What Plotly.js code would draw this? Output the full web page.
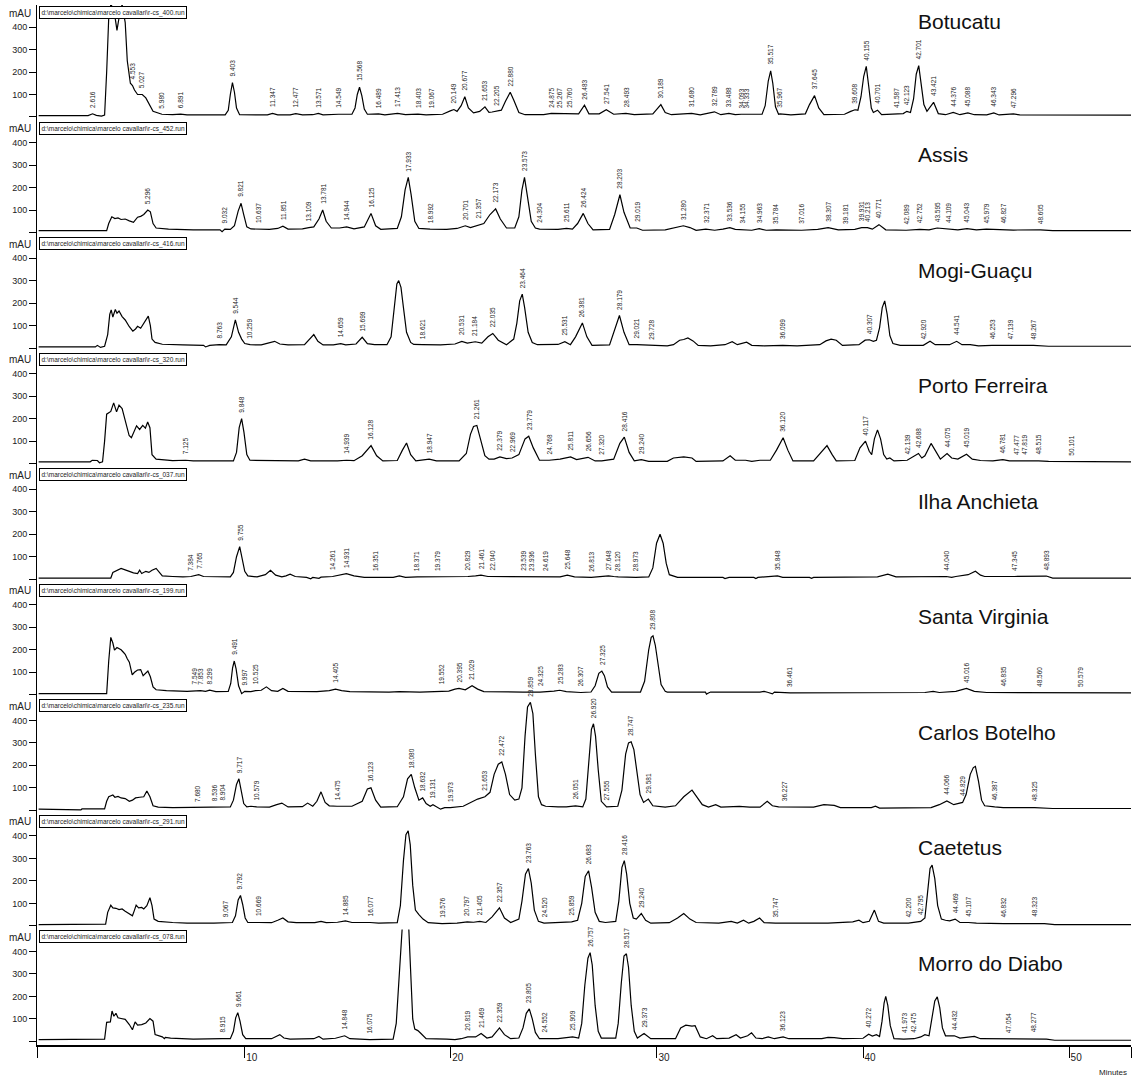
<!DOCTYPE html>
<html><head><meta charset="utf-8">
<script src="https://cdn.plot.ly/plotly-3.0.1.min.js"></script>
<style>html,body{margin:0;padding:0;background:#fff}</style>
</head><body><div id="chart" style="width:1136px;height:1078px"></div>
<script>
const sites = ["Botucatu","Assis","Mogi-Guaçu","Porto Ferreira","Ilha Anchieta","Santa Virginia","Carlos Botelho","Caetetus","Morro do Diabo"];
const runIds = ["400","452","416","320","037","199","235","291","078"];
const xTicks = [10,20,30,40,50];
const yTicks = [100,200,300,400];

const botucatuTrace = [[0,6],[2.4,6],[2.616,14],[2.8,7],[3.05,4],[3.2,8],[3.3,200],[3.4,440],[3.5,500],[3.65,480],[3.8,385],[3.95,470],[4.05,500],[4.2,420],[4.3,250],[4.45,150],[4.553,140],[4.65,120],[4.8,100],[5.027,100],[5.2,85],[5.35,60],[5.55,25],[5.98,12],[6.5,10],[6.891,13],[7.2,9],[9.05,9],[9.2,30],[9.3,100],[9.403,153],[9.5,110],[9.6,40],[9.75,10],[11.1,9],[11.347,16],[11.6,9],[12.2,9],[12.477,15],[12.8,9],[13.3,10],[13.571,16],[13.8,9],[14.549,12],[15.2,12],[15.35,40],[15.46,100],[15.568,132],[15.68,95],[15.8,35],[15.95,12],[16.489,14],[16.8,9],[17.413,16],[17.8,10],[18.403,13],[18.8,9],[19.067,10],[19.6,12],[20.0,28],[20.149,33],[20.3,25],[20.5,50],[20.677,90],[20.85,40],[21.1,18],[21.4,25],[21.653,45],[21.85,20],[22.0,22],[22.205,25],[22.45,30],[22.65,70],[22.88,110],[23.05,75],[23.3,20],[23.6,10],[24.5,10],[24.875,16],[25.267,15],[25.76,12],[26.2,14],[26.483,52],[26.7,14],[27.2,14],[27.541,32],[27.9,12],[28.493,16],[28.9,10],[29.8,14],[30.0,35],[30.189,55],[30.4,20],[30.7,10],[31.68,16],[32.1,9],[32.789,23],[33.1,10],[33.488,16],[33.8,10],[34.093,12],[34.333,12],[35.1,12],[35.25,50],[35.4,160],[35.517,205],[35.62,150],[35.75,45],[35.9,12],[35.967,14],[36.5,9],[37.2,14],[37.4,55],[37.645,95],[37.85,40],[38.1,10],[39.1,12],[39.4,25],[39.608,32],[39.75,30],[39.9,90],[40.03,180],[40.155,225],[40.27,140],[40.4,40],[40.5,20],[40.701,30],[40.9,10],[41.587,12],[41.95,15],[42.123,25],[42.3,20],[42.45,80],[42.58,190],[42.701,228],[42.82,150],[42.95,55],[43.1,25],[43.421,65],[43.65,15],[44.0,10],[44.376,20],[44.7,10],[45.088,18],[45.4,10],[46.0,9],[46.343,18],[46.6,9],[47.296,14],[47.6,9],[53,8]];
const botucatuPeaks = [["2.616",14],["4.553",140],["5.027",100],["5.980",12],["6.891",13],["9.403",153],["11.347",16],["12.477",15],["13.571",16],["14.549",12],["15.568",132],["16.489",14],["17.413",16],["18.403",13],["19.067",10],["20.149",33],["20.677",90],["21.653",45],["22.205",25],["22.880",110],["24.875",16],["25.267",15],["25.760",12],["26.483",52],["27.541",32],["28.493",16],["30.189",55],["31.680",16],["32.789",23],["33.488",16],["34.093",12],["34.333",12],["35.517",205],["35.967",14],["37.645",95],["39.608",32],["40.155",225],["40.701",30],["41.587",12],["42.123",25],["42.701",228],["43.421",65],["44.376",20],["45.088",18],["46.343",18],["47.296",14]];

const assisTrace = [[0,8],[3.3,8],[3.4,40],[3.55,70],[3.7,62],[3.85,65],[4.0,58],[4.2,60],[4.4,52],[4.6,45],[4.8,68],[4.95,72],[5.1,80],[5.296,100],[5.42,92],[5.55,40],[5.7,20],[6.3,15],[7.5,12],[8.8,12],[8.9,4],[9.0,14],[9.032,15],[9.3,14],[9.5,30],[9.68,95],[9.821,130],[9.95,80],[10.1,25],[10.3,16],[10.637,15],[11.2,14],[11.6,18],[11.851,28],[12.1,15],[12.8,16],[13.109,22],[13.35,25],[13.6,60],[13.781,100],[13.95,50],[14.2,20],[14.6,20],[14.944,25],[15.3,16],[15.8,25],[16.125,85],[16.35,30],[16.6,14],[17.4,18],[17.6,70],[17.78,190],[17.933,245],[18.07,170],[18.25,50],[18.45,18],[18.992,15],[19.8,14],[20.3,18],[20.701,30],[20.95,22],[21.357,35],[21.6,40],[21.9,80],[22.173,105],[22.4,60],[22.7,20],[23.1,20],[23.3,70],[23.45,190],[23.573,245],[23.7,170],[23.9,50],[24.1,20],[24.304,15],[25.2,14],[25.611,18],[25.9,15],[26.15,40],[26.424,85],[26.65,40],[26.9,12],[27.7,14],[27.95,80],[28.203,168],[28.4,90],[28.7,20],[29.019,20],[29.3,10],[30.4,12],[30.8,20],[31.28,30],[31.6,22],[31.9,10],[32.371,15],[32.8,10],[33.2,15],[33.536,22],[33.8,14],[34.155,12],[34.6,10],[34.963,17],[35.3,10],[35.784,12],[36.5,10],[37.016,10],[37.8,14],[38.307,22],[38.8,12],[39.181,12],[39.6,14],[39.931,22],[40.213,22],[40.45,15],[40.771,35],[41.1,12],[42.089,10],[42.752,14],[43.2,12],[43.595,20],[44.109,15],[44.6,12],[45.043,17],[45.5,12],[45.979,15],[46.827,12],[47.3,11],[48.605,12],[49.2,8],[53,8]];
const assisPeaks = [["5.296",100],["9.032",15],["9.821",130],["10.637",15],["11.851",28],["13.109",22],["13.781",100],["14.944",25],["16.125",85],["17.933",245],["18.992",15],["20.701",30],["21.357",35],["22.173",105],["23.573",245],["24.304",15],["25.611",18],["26.424",85],["28.203",168],["29.019",20],["31.280",30],["32.371",15],["33.536",22],["34.155",12],["34.963",17],["35.784",12],["37.016",10],["38.307",22],["39.181",12],["39.931",22],["40.213",22],["40.771",35],["42.089",10],["42.752",14],["43.595",20],["44.109",15],["45.043",17],["45.979",15],["46.827",12],["48.605",12]];

const mogiTrace = [[0,5],[2.75,5],[2.85,12],[3.0,3],[3.2,8],[3.35,60],[3.45,150],[3.52,170],[3.6,138],[3.72,172],[3.8,155],[3.9,165],[4.05,140],[4.2,125],[4.4,95],[4.57,75],[4.7,85],[4.8,97],[4.95,88],[5.1,110],[5.2,130],[5.32,142],[5.42,100],[5.5,40],[5.65,25],[6.0,17],[7.0,14],[8.0,12],[8.1,5],[8.3,12],[8.763,15],[9.1,14],[9.35,50],[9.544,125],[9.7,70],[9.85,40],[10.0,20],[10.259,15],[10.8,14],[11.2,22],[11.45,30],[11.7,18],[12.1,14],[12.9,15],[13.15,40],[13.35,60],[13.55,30],[13.8,14],[14.3,14],[14.659,20],[14.9,14],[15.4,18],[15.699,48],[15.95,20],[16.3,15],[16.9,15],[17.1,50],[17.25,180],[17.38,285],[17.47,300],[17.58,270],[17.7,180],[17.85,70],[18.05,25],[18.2,16],[18.621,15],[19.5,14],[20.2,18],[20.531,30],[20.8,22],[21.184,28],[21.5,22],[21.8,50],[22.035,65],[22.3,35],[22.7,15],[23.05,40],[23.2,110],[23.34,210],[23.464,240],[23.58,180],[23.75,70],[23.95,25],[24.2,15],[25.2,16],[25.531,28],[25.8,15],[26.05,50],[26.381,112],[26.6,50],[26.85,12],[27.7,14],[27.95,80],[28.179,145],[28.4,70],[28.65,15],[29.021,15],[29.728,12],[30.5,10],[30.8,15],[31.1,35],[31.3,38],[31.5,45],[31.75,32],[32.0,12],[32.6,10],[33.0,12],[33.3,15],[33.65,28],[33.9,15],[34.35,26],[34.6,12],[35.2,10],[36.099,12],[36.8,10],[37.9,15],[38.2,32],[38.45,40],[38.7,35],[39.0,12],[39.8,15],[40.1,35],[40.307,37],[40.5,30],[40.65,35],[40.8,90],[40.93,180],[41.05,210],[41.17,150],[41.3,55],[41.45,20],[41.8,12],[42.92,12],[43.25,30],[43.5,15],[44.2,15],[44.541,30],[44.8,15],[45.2,15],[45.6,10],[46.253,12],[47.139,12],[48.267,12],[49.0,8],[53,8]];
const mogiPeaks = [["8.763",15],["9.544",125],["10.259",15],["14.659",20],["15.699",48],["18.621",15],["20.531",30],["21.184",28],["22.035",65],["23.464",240],["25.531",28],["26.381",112],["28.179",145],["29.021",15],["29.728",12],["36.099",12],["40.307",37],["42.920",12],["44.541",30],["46.253",12],["47.139",12],["48.267",12]];

const portoTrace = [[0,8],[2.5,8],[2.6,15],[2.85,14],[2.95,4],[3.1,8],[3.2,100],[3.3,220],[3.5,232],[3.64,270],[3.78,230],[3.9,260],[4.05,245],[4.21,190],[4.39,125],[4.5,115],[4.62,140],[4.75,168],[4.9,152],[5.05,170],[5.18,158],[5.29,185],[5.4,160],[5.5,40],[5.7,20],[6.5,13],[7.125,15],[7.5,12],[9.45,12],[9.6,50],[9.73,160],[9.848,200],[9.96,140],[10.1,40],[10.25,15],[12.6,12],[12.9,20],[13.2,12],[14.5,12],[14.939,15],[15.3,13],[15.7,35],[16.128,80],[16.4,35],[16.7,12],[17.4,14],[17.65,60],[17.85,92],[18.05,40],[18.3,12],[18.947,20],[19.3,12],[20.4,12],[20.75,45],[20.95,130],[21.1,165],[21.261,170],[21.45,100],[21.65,35],[21.85,20],[22.1,20],[22.379,30],[22.7,22],[22.969,25],[23.3,40],[23.6,110],[23.779,122],[24.0,70],[24.3,15],[24.768,15],[25.3,20],[25.811,30],[26.1,18],[26.656,28],[27.0,12],[27.32,12],[27.9,20],[28.2,90],[28.416,118],[28.65,50],[28.9,12],[29.24,18],[29.6,10],[30.5,10],[30.8,25],[31.3,30],[31.7,25],[31.9,10],[33.2,12],[33.55,35],[33.8,15],[34.3,15],[34.6,10],[35.0,15],[35.5,15],[35.8,60],[36.12,115],[36.35,60],[36.6,12],[37.6,12],[37.95,50],[38.25,80],[38.5,40],[38.7,12],[39.6,14],[39.85,70],[40.117,100],[40.3,55],[40.42,40],[40.55,110],[40.7,150],[40.85,110],[41.0,40],[41.15,20],[41.3,25],[41.5,12],[42.139,15],[42.45,30],[42.688,45],[42.85,25],[43.0,35],[43.3,90],[43.5,60],[43.75,20],[44.075,45],[44.3,25],[44.6,20],[45.019,42],[45.3,20],[45.7,14],[46.3,12],[46.781,18],[47.1,12],[47.477,12],[47.819,14],[48.2,11],[48.515,12],[49.0,10],[50.101,10],[53,8]];
const portoPeaks = [["7.125",15],["9.848",200],["14.939",15],["16.128",80],["18.947",20],["21.261",170],["22.379",30],["22.969",25],["23.779",122],["24.768",15],["25.811",30],["26.656",28],["27.320",12],["28.416",118],["29.240",18],["36.120",115],["40.117",100],["42.139",15],["42.688",45],["44.075",45],["45.019",42],["46.781",18],["47.477",12],["47.819",14],["48.515",12],["50.101",10]];

const ilhaTrace = [[0,5],[3.5,5],[3.6,30],[3.8,40],[4.0,48],[4.3,38],[4.6,28],[4.8,25],[4.9,40],[5.0,25],[5.2,35],[5.35,30],[5.5,40],[5.7,48],[5.85,30],[6.0,15],[6.5,12],[7.0,10],[7.384,12],[7.765,20],[8.0,12],[9.3,10],[9.45,30],[9.6,100],[9.755,145],[9.88,90],[10.0,35],[10.15,15],[10.6,10],[11.0,20],[11.25,40],[11.5,18],[11.8,10],[12.0,15],[12.2,22],[12.45,12],[13.0,8],[13.2,2],[13.3,8],[13.6,4],[13.7,9],[14.261,12],[14.6,18],[14.931,25],[15.3,15],[15.8,8],[16.351,8],[17.2,8],[17.5,15],[17.8,8],[18.371,10],[19.379,10],[20.829,12],[21.2,15],[21.461,18],[21.8,12],[22.04,12],[23.539,10],[23.936,10],[24.619,10],[25.3,10],[25.648,18],[26.0,10],[26.813,8],[27.4,14],[27.648,15],[27.9,12],[28.12,10],[28.973,8],[29.6,10],[29.8,50],[29.98,160],[30.15,200],[30.3,160],[30.45,70],[30.6,20],[31.0,8],[33.2,8],[33.3,3],[33.5,8],[34.7,8],[34.8,3],[34.9,8],[35.848,15],[36.1,8],[37.4,8],[37.5,4],[37.6,8],[40.7,10],[41.2,22],[41.6,10],[43.8,12],[44.04,12],[44.3,8],[44.5,12],[45.1,20],[45.45,35],[45.7,18],[45.9,12],[47.345,12],[48.5,12],[48.893,14],[49.2,5],[53,5]];
const ilhaPeaks = [["7.384",12],["7.765",20],["9.755",145],["14.261",12],["14.931",25],["16.351",8],["18.371",10],["19.379",10],["20.829",12],["21.461",18],["22.040",12],["23.539",10],["23.936",10],["24.619",10],["25.648",18],["26.813",8],["27.648",15],["28.120",10],["28.973",8],["35.848",15],["44.040",12],["47.345",12],["48.893",14]];

const santaTrace = [[0,5],[3.3,5],[3.4,150],[3.5,255],[3.6,230],[3.68,198],[3.8,210],[3.9,205],[4.0,200],[4.1,190],[4.2,180],[4.3,160],[4.4,145],[4.54,88],[4.65,100],[4.8,110],[4.95,112],[5.07,85],[5.18,95],[5.3,105],[5.42,80],[5.55,35],[5.7,22],[6.2,18],[7.2,15],[7.549,18],[7.853,18],[8.1,15],[8.299,20],[8.6,14],[9.2,15],[9.32,50],[9.41,120],[9.491,150],[9.58,115],[9.7,40],[9.85,5],[9.997,15],[10.3,14],[10.525,18],[10.8,20],[11.05,35],[11.3,18],[11.6,15],[11.85,28],[12.1,15],[13.5,14],[14.1,18],[14.405,25],[14.7,18],[15.1,14],[17.0,12],[17.5,14],[18.5,12],[19.2,14],[19.552,18],[19.9,16],[20.2,25],[20.395,28],[20.7,22],[21.029,40],[21.3,25],[21.6,14],[23.5,12],[24.325,12],[25.0,16],[25.283,20],[25.6,14],[26.307,10],[26.8,12],[27.0,40],[27.18,95],[27.325,105],[27.45,85],[27.6,35],[27.8,12],[29.2,12],[29.4,60],[29.6,200],[29.72,255],[29.808,262],[29.92,220],[30.05,130],[30.2,45],[30.4,15],[30.5,12],[32.35,12],[32.4,3],[32.5,8],[32.6,12],[35.0,12],[35.2,15],[35.4,10],[35.6,4],[35.7,12],[36.461,8],[43.0,10],[43.4,15],[43.7,10],[44.5,15],[45.016,28],[45.4,15],[46.0,10],[46.835,10],[48.0,10],[48.56,10],[49.2,8],[50.579,8],[53,8]];
const santaPeaks = [["7.549",18],["7.853",18],["8.299",20],["9.491",150],["9.997",15],["10.525",18],["14.405",25],["19.552",18],["20.395",28],["21.029",40],["24.325",12],["25.283",20],["26.307",10],["27.325",105],["29.808",262],["36.461",8],["45.016",28],["46.835",10],["48.560",10],["50.579",8]];

const carlosTrace = [[0,5],[2.0,5],[2.05,2],[2.1,6],[3.2,6],[3.3,40],[3.4,60],[3.6,68],[3.7,58],[3.85,62],[4.0,55],[4.2,52],[4.4,40],[4.55,45],[4.7,55],[4.9,58],[5.1,60],[5.25,86],[5.4,60],[5.55,20],[5.8,14],[6.5,12],[7.68,12],[8.2,13],[8.536,14],[8.904,15],[9.3,15],[9.45,45],[9.6,115],[9.717,140],[9.83,90],[9.95,30],[10.1,15],[10.3,18],[10.579,15],[11.2,14],[11.55,25],[11.8,32],[12.1,15],[12.8,16],[13.05,32],[13.3,18],[13.5,40],[13.7,82],[13.9,35],[14.1,20],[14.475,18],[15.2,18],[15.7,40],[15.95,95],[16.123,100],[16.35,45],[16.6,14],[17.4,16],[17.7,60],[17.9,140],[18.08,160],[18.25,100],[18.45,45],[18.632,55],[18.8,30],[19.0,18],[19.131,25],[19.3,14],[19.5,5],[19.7,12],[19.973,12],[20.6,18],[21.0,35],[21.3,50],[21.653,60],[21.9,80],[22.1,160],[22.3,205],[22.472,215],[22.65,160],[22.85,70],[23.1,45],[23.3,50],[23.45,100],[23.6,330],[23.72,460],[23.859,480],[23.98,430],[24.1,250],[24.25,60],[24.4,25],[24.6,18],[25.2,15],[25.6,15],[26.051,20],[26.4,15],[26.55,50],[26.7,220],[26.82,360],[26.92,385],[27.02,330],[27.15,180],[27.3,40],[27.555,15],[28.1,18],[28.3,90],[28.48,250],[28.62,300],[28.747,305],[28.88,270],[29.02,180],[29.18,70],[29.35,35],[29.581,50],[29.8,20],[30.4,14],[30.9,20],[31.3,60],[31.7,90],[31.95,60],[32.2,25],[32.5,14],[32.85,25],[33.1,14],[33.6,15],[34.0,17],[34.5,14],[35.0,14],[35.35,40],[35.6,20],[35.9,15],[36.227,15],[36.6,12],[37.6,14],[38.1,25],[38.6,22],[38.9,12],[40.4,12],[40.6,18],[40.8,10],[43.3,12],[43.7,25],[44.066,42],[44.4,25],[44.829,35],[45.0,70],[45.2,160],[45.35,190],[45.45,195],[45.6,130],[45.75,45],[45.9,20],[46.387,15],[46.8,12],[48.325,12],[49.2,8],[53,8]];
const carlosPeaks = [["7.680",12],["8.536",14],["8.904",15],["9.717",140],["10.579",15],["14.475",18],["16.123",100],["18.080",160],["18.632",55],["19.131",25],["19.973",12],["21.653",60],["22.472",215],["23.859",480],["26.051",20],["26.920",385],["27.555",15],["28.747",305],["29.581",50],["36.227",15],["44.066",42],["44.829",35],["46.387",15],["48.325",12]];

const caetetusTrace = [[0,5],[2.6,5],[2.7,8],[3.25,8],[3.35,60],[3.5,92],[3.6,80],[3.75,78],[3.9,72],[4.05,75],[4.2,65],[4.4,55],[4.55,45],[4.65,70],[4.73,92],[4.85,80],[5.0,82],[5.1,75],[5.25,90],[5.4,125],[5.5,90],[5.6,30],[5.8,20],[6.5,15],[7.2,12],[8.5,12],[9.067,12],[9.4,15],[9.55,45],[9.68,115],[9.792,135],[9.9,95],[10.02,35],[10.15,15],[10.669,15],[11.3,14],[11.6,25],[11.85,35],[12.1,18],[12.5,14],[13.4,14],[13.7,20],[13.95,14],[14.5,16],[14.885,22],[15.2,15],[16.077,15],[16.5,12],[17.4,14],[17.55,90],[17.7,290],[17.82,405],[17.93,423],[18.03,360],[18.15,180],[18.28,70],[18.45,50],[18.65,30],[18.9,14],[19.576,10],[20.3,12],[20.797,18],[21.1,16],[21.405,20],[21.7,15],[22.0,40],[22.357,80],[22.6,35],[22.9,15],[23.3,30],[23.45,110],[23.62,230],[23.763,255],[23.9,190],[24.05,70],[24.25,20],[24.52,12],[25.5,14],[25.859,18],[26.15,25],[26.35,100],[26.52,220],[26.683,245],[26.83,170],[27.0,60],[27.2,20],[27.5,15],[28.0,20],[28.15,110],[28.3,260],[28.416,290],[28.53,230],[28.68,100],[28.85,35],[29.0,30],[29.24,55],[29.45,25],[29.7,12],[30.6,14],[31.0,35],[31.3,55],[31.6,30],[31.9,15],[33.0,12],[33.6,20],[33.9,12],[34.2,25],[34.45,12],[34.7,20],[34.98,35],[35.2,14],[35.747,12],[36.5,12],[37.6,14],[37.9,15],[38.3,12],[39.5,18],[39.8,25],[40.0,14],[40.3,20],[40.55,70],[40.75,20],[41.0,12],[42.2,12],[42.795,20],[43.0,35],[43.12,140],[43.25,255],[43.35,270],[43.48,210],[43.62,90],[43.8,30],[44.0,25],[44.2,22],[44.469,30],[44.7,15],[45.107,15],[45.5,12],[46.832,10],[48.323,12],[48.8,10],[49.3,5],[53,5]];
const caetetusPeaks = [["9.067",12],["9.792",135],["10.669",15],["14.885",22],["16.077",15],["19.576",10],["20.797",18],["21.405",20],["22.357",80],["23.763",255],["24.520",12],["25.859",18],["26.683",245],["28.416",290],["29.240",55],["35.747",12],["42.200",12],["42.795",20],["44.469",30],["45.107",15],["46.832",10],["48.323",12]];

const morroTrace = [[0,8],[2.5,8],[2.55,10],[3.2,10],[3.3,85],[3.48,87],[3.56,135],[3.65,112],[3.75,125],[3.85,105],[4.0,102],[4.2,98],[4.4,75],[4.55,52],[4.68,87],[4.8,72],[5.0,75],[5.2,82],[5.4,102],[5.55,90],[5.65,30],[6.0,20],[6.1,12],[6.15,18],[6.4,15],[7.5,10],[8.915,12],[9.3,12],[9.45,45],[9.56,105],[9.661,128],[9.77,90],[9.9,30],[10.05,12],[11.3,12],[11.55,25],[11.7,30],[11.9,15],[12.2,10],[13.35,12],[13.6,22],[13.8,10],[14.4,14],[14.848,25],[15.1,12],[16.075,8],[17.2,10],[17.35,80],[17.5,300],[17.65,520],[17.95,520],[18.05,300],[18.15,100],[18.25,55],[18.4,48],[18.55,35],[18.8,12],[19.8,10],[20.2,8],[20.5,12],[20.819,20],[21.2,20],[21.469,35],[21.75,15],[22.0,20],[22.359,60],[22.6,30],[22.9,12],[23.3,15],[23.5,60],[23.66,125],[23.805,145],[23.95,100],[24.1,40],[24.3,12],[24.552,12],[25.2,12],[25.909,20],[26.2,15],[26.35,80],[26.5,250],[26.65,370],[26.757,395],[26.86,340],[27.0,160],[27.15,45],[27.3,15],[28.0,15],[28.12,80],[28.27,260],[28.4,380],[28.517,390],[28.62,330],[28.75,160],[28.9,45],[29.05,15],[29.373,35],[29.7,12],[30.9,12],[31.15,60],[31.4,72],[31.7,68],[31.85,70],[32.1,20],[32.4,12],[32.7,25],[32.9,12],[33.5,15],[33.84,30],[34.05,15],[34.4,25],[34.59,38],[34.8,15],[35.1,12],[35.4,20],[35.7,12],[36.123,20],[36.4,12],[37.2,12],[37.55,15],[38.0,12],[38.3,18],[38.6,17],[39.0,12],[40.0,14],[40.272,32],[40.45,24],[40.65,30],[40.8,22],[40.92,90],[41.02,170],[41.1,200],[41.2,160],[41.32,70],[41.5,12],[41.973,10],[42.475,12],[42.8,20],[43.0,30],[43.2,25],[43.35,110],[43.48,180],[43.6,198],[43.72,150],[43.85,60],[44.0,25],[44.432,25],[44.7,15],[45.0,18],[45.4,22],[45.7,12],[46.1,12],[47.054,12],[47.5,11],[48.277,12],[48.9,10],[49.3,5],[53,5]];
const morroPeaks = [["8.915",12],["9.661",128],["14.848",25],["16.075",8],["20.819",20],["21.469",35],["22.359",60],["23.805",145],["24.552",12],["25.909",20],["26.757",395],["28.517",390],["29.373",35],["36.123",20],["40.272",32],["41.973",10],["42.475",12],["44.432",25],["47.054",12],["48.277",12]];

const panelTraces = [botucatuTrace, assisTrace, mogiTrace, portoTrace, ilhaTrace, santaTrace, carlosTrace, caetetusTrace, morroTrace];
const panelPeaks = [botucatuPeaks, assisPeaks, mogiPeaks, portoPeaks, ilhaPeaks, santaPeaks, carlosPeaks, caetetusPeaks, morroPeaks];

const FONT = '"Liberation Sans", Arial, sans-serif';
const N = sites.length;
const data = [];
const annotations = [];
const layout = {
  width: 1136, height: 1078,
  margin: {l: 37, r: 5, t: 5, b: 33},
  paper_bgcolor: '#fff', plot_bgcolor: '#fff',
  showlegend: false,
  font: {family: FONT, color: '#222'},
  xaxis: {
    domain: [0, 1], range: [-0.08, 53], anchor: 'y' + N,
    showline: true, linecolor: '#000', linewidth: 1.5,
    ticks: 'outside', ticklen: 11, tickwidth: 1, tickcolor: '#000',
    tickvals: [-0.08].concat(xTicks, [53]),
    ticktext: [''].concat(xTicks.map(String), ['']),
    ticklabelshift: 7, ticklabelstandoff: -9,
    tickfont: {size: 10, color: '#222', family: FONT},
    showgrid: false, zeroline: false
  }
};

for (let i = 0; i < N; i++) {
  const yname = i === 0 ? 'y' : 'y' + (i + 1);
  const ykey = i === 0 ? 'yaxis' : 'yaxis' + (i + 1);
  const tr = panelTraces[i];
  data.push({
    type: 'scatter', mode: 'lines',
    x: tr.map(p => p[0]), y: tr.map(p => p[1]),
    xaxis: 'x', yaxis: yname,
    line: {color: '#000', width: 1.2},
    hoverinfo: 'skip'
  });
  layout[ykey] = {
    domain: [1 - (i + 1) / N, 1 - i / N], range: [-16, 498], anchor: 'x',
    showline: true, linecolor: '#000', linewidth: 1,
    ticks: 'outside', ticklen: 7, tickcolor: '#000',
    tickvals: [0].concat(yTicks), ticktext: [''].concat(yTicks.map(String)),
    tickfont: {size: 9, color: '#222', family: FONT},
    showgrid: false, zeroline: false
  };
  annotations.push({
    xref: 'paper', x: 0, xanchor: 'right', xshift: -4,
    yref: yname + ' domain', y: 1, yanchor: 'middle', yshift: -8,
    text: 'mAU', showarrow: false, font: {size: 10, color: '#222', family: FONT}
  });
  annotations.push({
    xref: 'paper', x: 0, xanchor: 'left', xshift: 2,
    yref: yname + ' domain', y: 1, yanchor: 'top', yshift: -1,
    text: 'd:\\marcelo\\chimica\\marcelo cavallari\\r-cs_' + runIds[i] + '.run',
    showarrow: false, bordercolor: '#000', borderwidth: 1, borderpad: 1.5, bgcolor: '#fff',
    font: {size: 6.5, color: '#222', family: FONT}
  });
  annotations.push({
    xref: 'x', x: 42.55, xanchor: 'left',
    yref: yname + ' domain', y: i === 0 ? 0.86 : 0.706, yanchor: 'middle',
    text: sites[i], showarrow: false, font: {size: 21, color: '#111', family: FONT}
  });
  panelPeaks[i].forEach(p => {
    annotations.push({
      xref: 'x', x: parseFloat(p[0]), yref: yname, y: p[1],
      xanchor: 'center', yanchor: 'bottom', yshift: 4,
      text: p[0], textangle: -90, showarrow: false,
      font: {size: 6.5, color: '#222', family: FONT}
    });
  });
}
annotations.push({
  xref: 'paper', x: 1, xanchor: 'right', xshift: -2,
  yref: 'paper', y: 0, yanchor: 'top', yshift: -21,
  text: 'Minutes', showarrow: false, font: {size: 8, color: '#222', family: FONT}
});
layout.annotations = annotations;

Plotly.newPlot('chart', data, layout, {staticPlot: true, displayModeBar: false});
</script></body></html>
